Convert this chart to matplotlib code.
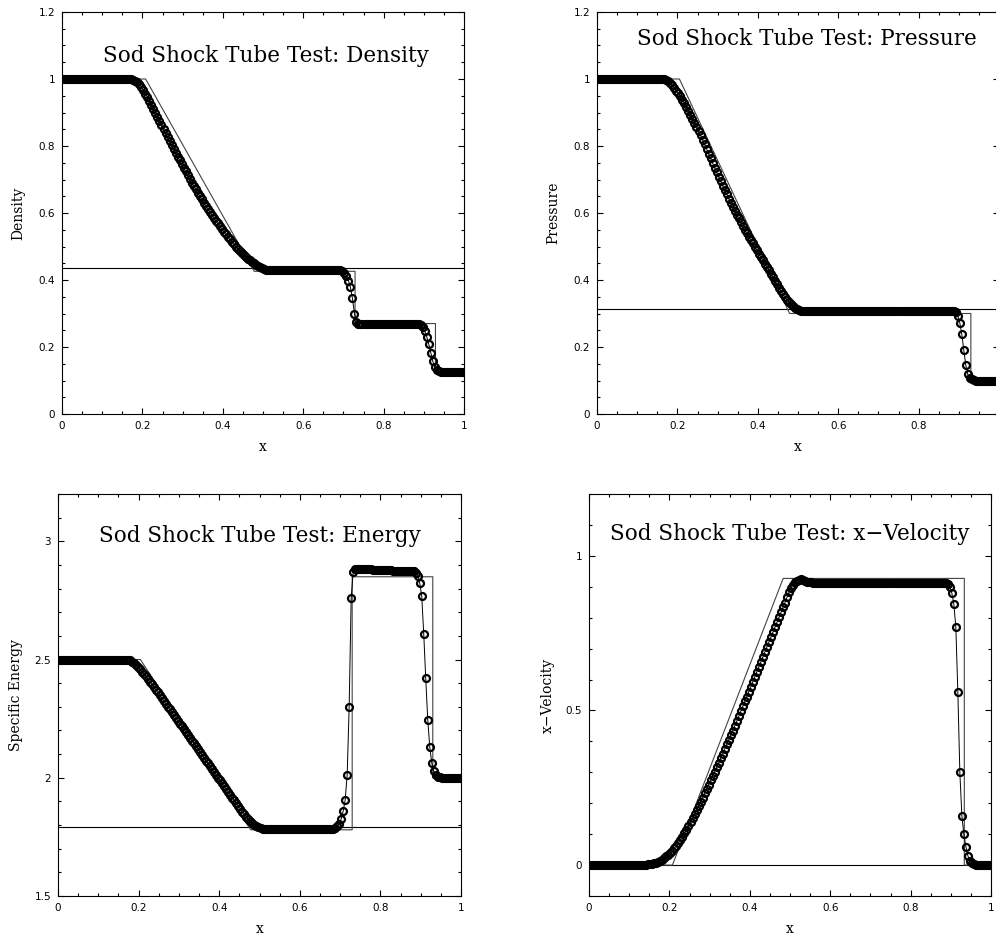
import numpy as np
import matplotlib
matplotlib.use("Agg")
import matplotlib.pyplot as plt
from matplotlib.ticker import MultipleLocator

# 200 zone centres on [0, 1]
x = 0.0025 + 0.005 * np.arange(200)

# numerical solution at t ~ 0.245
dens_num = ([1.0] * 35 +
            [0.998, 0.995, 0.990, 0.984, 0.976, 0.966, 0.956, 0.945, 0.934, 0.922,
             0.911, 0.899, 0.887, 0.875, 0.863, 0.851, 0.839, 0.827, 0.815, 0.803,
             0.792, 0.780, 0.768, 0.757, 0.746, 0.735, 0.724, 0.713, 0.702, 0.691,
             0.681, 0.671, 0.661, 0.651, 0.641, 0.631, 0.622, 0.613, 0.604, 0.595,
             0.586, 0.577, 0.569, 0.560, 0.552, 0.544, 0.536, 0.529, 0.521, 0.514,
             0.507, 0.500, 0.494, 0.487, 0.481, 0.475, 0.470, 0.464, 0.459, 0.454,
             0.450, 0.446, 0.442, 0.438, 0.435, 0.433, 0.431, 0.430, 0.429, 0.429,
             0.430] +
            [0.431] * 32 +
            [0.430, 0.427, 0.421, 0.411, 0.398, 0.378, 0.345, 0.300, 0.274, 0.270] +
            [0.270] * 29 +
            [0.269, 0.266, 0.259, 0.247, 0.230, 0.208, 0.182, 0.157, 0.140, 0.131,
             0.127, 0.125] +
            [0.124] * 11)

pres_num = ([1.0] * 34 +
            [0.998, 0.995, 0.988, 0.981, 0.973, 0.965, 0.957, 0.948, 0.938, 0.928,
             0.917, 0.905, 0.893, 0.881, 0.869, 0.857, 0.845, 0.832, 0.819, 0.805,
             0.791, 0.777, 0.763, 0.749, 0.735, 0.721, 0.708, 0.695, 0.682, 0.669,
             0.656, 0.643, 0.631, 0.619, 0.607, 0.595, 0.584, 0.572, 0.561, 0.550,
             0.539, 0.529, 0.519, 0.509, 0.499, 0.489, 0.479, 0.469, 0.459, 0.449,
             0.439, 0.429, 0.419, 0.409, 0.398, 0.387, 0.377, 0.367, 0.358, 0.349,
             0.341, 0.334, 0.327, 0.321, 0.316, 0.312, 0.309, 0.307, 0.306, 0.306,
             0.307] +
            [0.308] * 72 +
            [0.307, 0.303, 0.293, 0.272, 0.238, 0.190, 0.145, 0.118, 0.107, 0.103,
             0.101] +
            [0.100] * 12)

ener_num = ([2.5] * 34 +
            [2.499, 2.496, 2.491, 2.485, 2.477, 2.468, 2.458, 2.449, 2.439, 2.429,
             2.418, 2.407, 2.396, 2.385, 2.373, 2.361, 2.349, 2.337, 2.325, 2.313,
             2.301, 2.289, 2.277, 2.265, 2.253, 2.241, 2.229, 2.217, 2.205, 2.193,
             2.181, 2.169, 2.157, 2.145, 2.133, 2.121, 2.109, 2.097, 2.085, 2.073,
             2.061, 2.049, 2.037, 2.025, 2.013, 2.001, 1.989, 1.977, 1.964, 1.952,
             1.940, 1.928, 1.916, 1.904, 1.892, 1.880, 1.868, 1.857, 1.846, 1.835,
             1.825, 1.816, 1.808, 1.801, 1.795, 1.790, 1.787, 1.785, 1.784, 1.783,
             1.783, 1.784] +
            [1.785] * 31 +
            [1.788, 1.794, 1.805, 1.825, 1.858, 1.905, 2.010, 2.300, 2.760, 2.870,
             2.883] +
            [2.884] * 8 + [2.879] * 10 + [2.873] * 11 +
            [2.866, 2.855, 2.825, 2.770, 2.610, 2.420, 2.245, 2.130, 2.062, 2.027,
             2.012, 2.005, 2.002] +
            [2.0] * 10)

velx_num = ([0.0] * 28 +
            [0.001, 0.002, 0.003, 0.004, 0.006, 0.008, 0.011, 0.014, 0.018, 0.023,
             0.028, 0.034, 0.040, 0.047, 0.055, 0.063, 0.072, 0.082, 0.092, 0.103,
             0.114, 0.126, 0.138, 0.151, 0.164, 0.177, 0.190, 0.204, 0.218, 0.232,
             0.246, 0.260, 0.274, 0.288, 0.302, 0.316, 0.330, 0.345, 0.360, 0.375,
             0.390, 0.405, 0.420, 0.435, 0.450, 0.465, 0.481, 0.497, 0.513, 0.529,
             0.545, 0.561, 0.577, 0.593, 0.609, 0.625, 0.641, 0.657, 0.673, 0.689,
             0.705, 0.721, 0.737, 0.753, 0.769, 0.785, 0.801, 0.817, 0.833, 0.849,
             0.866, 0.882, 0.896, 0.907, 0.915, 0.920, 0.923, 0.924, 0.922, 0.919,
             0.917, 0.915, 0.914, 0.913] +
            [0.913] * 66 +
            [0.908, 0.900, 0.880, 0.845, 0.770, 0.560, 0.300, 0.160, 0.100, 0.060,
             0.030, 0.014, 0.007, 0.003, 0.001] +
            [0.0] * 7)

# analytic solution (piecewise linear)
dens_ex_x = [0.0, 0.208, 0.478, 0.729, 0.729, 0.929, 0.929, 1.0]
dens_ex_y = [1.0, 1.0, 0.426, 0.426, 0.270, 0.270, 0.125, 0.125]
pres_ex_x = [0.0, 0.205, 0.479, 0.930, 0.930, 1.0]
pres_ex_y = [1.0, 1.0, 0.300, 0.300, 0.100, 0.100]
ener_ex_x = [0.0, 0.2045, 0.478, 0.730, 0.730, 0.930, 0.930, 1.0]
ener_ex_y = [2.5, 2.5, 1.780, 1.780, 2.850, 2.850, 2.0, 2.0]
velx_ex_x = [0.0, 0.2075, 0.483, 0.9336, 0.9336, 1.0]
velx_ex_y = [0.0, 0.0, 0.927, 0.927, 0.0, 0.0]

# horizontal reference levels
ref_levels = [0.437, 0.312, 1.793, 0.0]

titles = ["Sod Shock Tube Test: Density", "Sod Shock Tube Test: Pressure",
          "Sod Shock Tube Test: Energy", "Sod Shock Tube Test: x\u2212Velocity"]
ylabels = ["Density", "Pressure", "Specific Energy", "x\u2212Velocity"]
ylims = [(0, 1.2), (0, 1.2), (1.5, 3.2), (-0.1, 1.2)]
ymajor = [0.2, 0.2, 0.5, 0.5]
yminor = [0.05, 0.05, 0.1, 0.1]

W, H = 996, 940
fig = plt.figure(figsize=(W / 100, H / 100), dpi=100)

# axes boxes in pixels: left, top, right, bottom
boxes = [(62, 12, 464, 414), (597, 12, 999, 414),
         (58, 494, 461, 896), (589, 494, 991, 896)]
title_pos = [(0.102, 0.89), (0.10, 0.933), (0.102, 0.896), (0.053, 0.90)]
ylab_x = [-0.109, -0.109, -0.104, -0.102]

nums = [dens_num, pres_num, ener_num, velx_num]
exs = [(dens_ex_x, dens_ex_y), (pres_ex_x, pres_ex_y),
       (ener_ex_x, ener_ex_y), (velx_ex_x, velx_ex_y)]

serif = "DejaVu Serif"


def tick_fmt(v, pos):
    return f"{v:g}"


def tick_fmt_clip(v, pos):
    # the pressure panel runs off the right edge, so its "1" is not shown
    return "" if v > 0.99 else f"{v:g}"


for k in range(4):
    l, t, r, b = boxes[k]
    ax = fig.add_axes([l / W, 1 - b / H, (r - l) / W, (b - t) / H])
    ax.axhline(ref_levels[k], color="black", lw=0.8, zorder=1)
    ax.plot(exs[k][0], exs[k][1], color="#444444", lw=0.8, zorder=2)
    ax.plot(x, nums[k], color="black", lw=0.7, marker="o", ms=5,
            mfc="none", mec="black", mew=1.6, zorder=3)
    ax.set_xlim(0, 1)
    ax.set_ylim(*ylims[k])
    ax.xaxis.set_major_locator(MultipleLocator(0.2))
    ax.xaxis.set_minor_locator(MultipleLocator(0.05))
    ax.yaxis.set_major_locator(MultipleLocator(ymajor[k]))
    ax.yaxis.set_minor_locator(MultipleLocator(yminor[k]))
    ax.xaxis.set_major_formatter(plt.FuncFormatter(tick_fmt_clip if k == 1 else tick_fmt))
    ax.yaxis.set_major_formatter(plt.FuncFormatter(tick_fmt))
    ax.tick_params(which="both", direction="in", top=True, right=True,
                   width=0.8, labelsize=7.5, pad=5)
    ax.tick_params(which="major", length=4.5)
    ax.tick_params(which="minor", length=2.3)
    for s in ax.spines.values():
        s.set_linewidth(0.8)
    ax.text(title_pos[k][0], title_pos[k][1], titles[k], transform=ax.transAxes,
            family=serif, fontsize=15.5, ha="left", va="center")
    ax.set_xlabel("x", family=serif, fontsize=10, va="center")
    ax.xaxis.set_label_coords(0.5, -0.083)
    ax.set_ylabel(ylabels[k], family=serif, fontsize=10, va="center")
    ax.yaxis.set_label_coords(ylab_x[k], 0.5)

fig.savefig("out.png", dpi=100)
